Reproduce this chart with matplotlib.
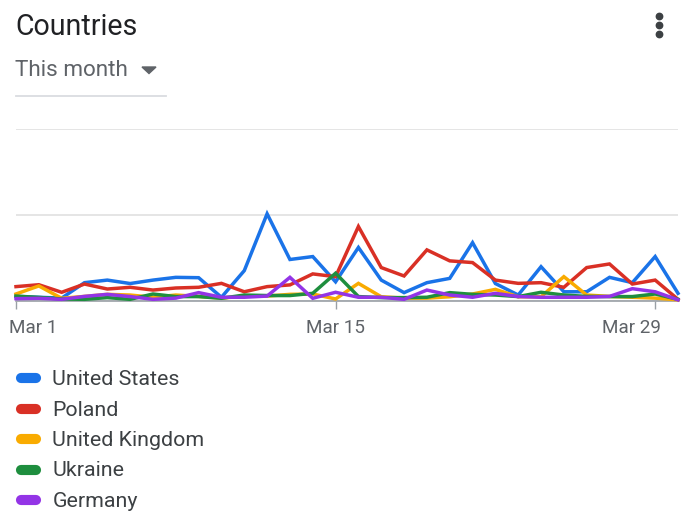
import numpy as np
import matplotlib
matplotlib.use('Agg')
import matplotlib.pyplot as plt
from matplotlib.lines import Line2D
from matplotlib.patches import Polygon

plt.rcParams['font.family'] = ['Roboto', 'DejaVu Sans']

# data: day of March, share per country
days = np.arange(1, 31)
countries = ['United States', 'Poland', 'United Kingdom', 'Ukraine', 'Germany']
colors = ['#1a73e8', '#d93025', '#f9ab00', '#1e8e3e', '#9334e6']
us = [2.5, 2, 1.5, 10.5, 12, 10, 12, 13.6, 13.4, 2, 17.5, 50.6, 24, 25.7, 11,
      31, 12, 4.7, 10.5, 13, 33.8, 10, 3.3, 19.8, 5.2, 5.2, 13.6, 10.5, 25.7, 4.3]
pl = [8.2, 9.3, 4.9, 9.7, 6.8, 7.8, 6.2, 7.4, 7.8, 10.1, 5.2, 8.2, 9.2, 15.6, 14,
      43.2, 19.3, 14.4, 29.6, 23.2, 22.2, 12, 10.1, 10.5, 7.8, 19.3, 21.4, 9.7, 12, 0.8]
uk = [3.9, 8.6, 1.4, 2.5, 3.7, 3.3, 2, 3.3, 2.5, 1.5, 2.7, 2.7, 3.7, 3.9, 1,
      10.1, 2.3, 1.5, 1.5, 2.3, 3.9, 6.6, 2.3, 2.3, 14, 3.3, 2.5, 2, 1.5, 0.5]
ua = [2.7, 1.9, 1, 0.8, 1.8, 0.8, 3.9, 2.4, 2.4, 1.4, 3.3, 3, 3, 4.3, 16,
      2.4, 1.8, 1.8, 2, 4.7, 3.7, 3.3, 2.4, 4.9, 3.3, 2.5, 2.4, 2.4, 3.9, 0.8]
de = [1.2, 1.4, 0.8, 2.5, 3.7, 2.4, 0.8, 1.5, 4.7, 2, 2, 2.7, 13.6, 1.4, 4.9,
      2, 2, 0.8, 6.2, 3.3, 2, 4.3, 2.4, 2, 2, 2, 2.5, 7, 5.2, 0.5]
series = [us, pl, uk, ua, de]
tick_days = [1, 15, 29]
tick_labels = ['Mar 1', 'Mar 15', 'Mar 29']

W, H = 696, 527
fig = plt.figure(figsize=(W / 100, H / 100), dpi=100)

def fx(px):
    return px / W

def fy(py):
    return 1 - py / H

ax = fig.add_axes([fx(16), fy(300.7), fx(678) - fx(16), fy(129) - fy(300.7)])
for vals, c in zip(series, colors):
    ax.plot(days, vals, color=c, lw=2.5, solid_joinstyle='miter', clip_on=False, zorder=3)

ax.set_xlim(1, 30)
ax.set_ylim(0, 100)
ax.set_yticks([0, 50, 100])
ax.yaxis.grid(True, color='#e0e0e0', lw=1.2)
ax.set_axisbelow(True)
for s in ['top', 'left', 'right']:
    ax.spines[s].set_visible(False)
ax.spines['bottom'].set_color('#9aa0a6')
ax.spines['bottom'].set_linewidth(1.2)
ax.set_xticks(tick_days)
ax.tick_params(axis='x', direction='out', length=6, width=1, color='#9aa0a6',
               labelbottom=False)
ax.tick_params(axis='y', length=0, labelleft=False)

# x labels, end labels kept inside the card
aligns = [('left', -7), ('center', 0), ('right', 6)]
for d, lab, (ha, dx) in zip(tick_days, tick_labels, aligns):
    ax.annotate(lab, xy=(d, 0), xycoords=ax.get_xaxis_transform(),
                xytext=(dx, -32.5), textcoords='offset pixels',
                ha=ha, va='baseline', fontsize=13.6, color='#5f6368')

# header
fig.text(fx(15), fy(35), 'Countries', fontsize=20.6, color='#202124', va='baseline')
fig.text(fx(15), fy(76), 'This month', fontsize=16.2, color='#5f6368', va='baseline')
fig.add_artist(Polygon([(fx(142), fy(67)), (fx(156), fy(67)), (fx(149), fy(73.5))],
                       closed=True, color='#5f6368', transform=fig.transFigure))
fig.add_artist(Line2D([fx(16), fx(166)], [fy(95.7), fy(95.7)], color='#dadce0', lw=1.3,
                      transform=fig.transFigure))
fig.add_artist(Line2D([fx(658.7)] * 3, [fy(15.7), fy(25), fy(34)], ls='none',
                      marker='o', ms=4.6, color='#3c4043', transform=fig.transFigure))

# legend
for i, (name, c) in enumerate(zip(countries, colors)):
    yc = 378.3 + 30.4 * i
    fig.add_artist(Line2D([fx(21), fx(36)], [fy(yc), fy(yc)], color=c, lw=7.3,
                          solid_capstyle='round', transform=fig.transFigure))
    fig.text(fx(52.5), fy(yc + 6.8), name, fontsize=15.4, color='#3c4043', va='baseline')

fig.savefig('out.png', dpi=100)
